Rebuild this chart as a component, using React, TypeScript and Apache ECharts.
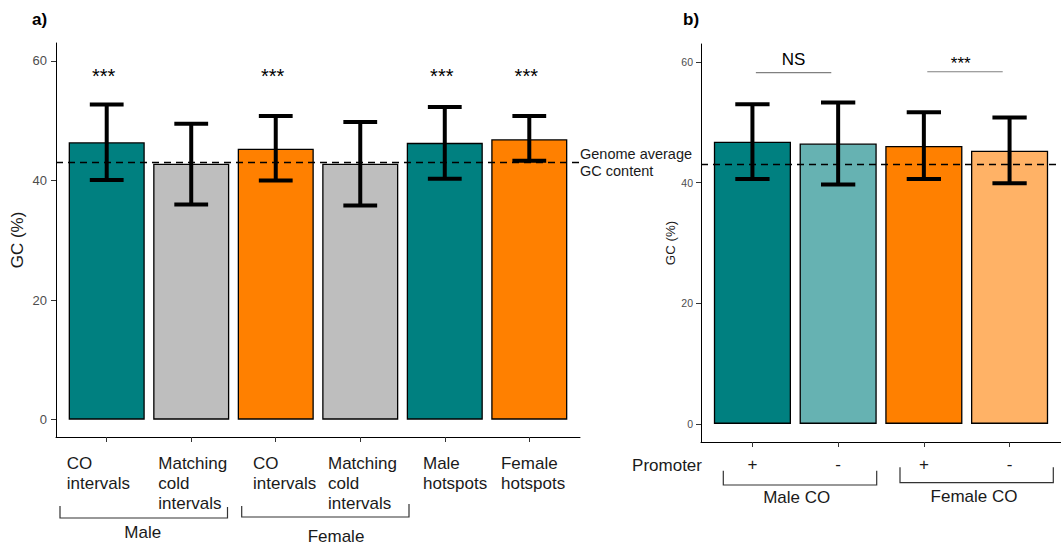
import React, { useEffect, useRef } from 'react';
import * as echarts from 'echarts';

// ---------- Panel a data ----------
const categoriesA = [
  'CO\nintervals',
  'Matching\ncold\nintervals',
  'CO\nintervals',
  'Matching\ncold\nintervals',
  'Male\nhotspots',
  'Female\nhotspots',
];
const gcA = [46.4, 42.8, 45.3, 42.8, 46.3, 46.9];
const lowA = [40.1, 36.0, 40.0, 35.8, 40.3, 43.3];
const highA = [52.7, 49.5, 50.8, 49.8, 52.3, 50.8];
const fillA = ['#008080', '#BEBEBE', '#FF8000', '#BEBEBE', '#008080', '#FF8000'];
const starIndexA = [0, 2, 4, 5];
const starValueA = 57.4;
const groupLabelsA = ['Male', 'Female'];

// ---------- Panel b data ----------
const categoriesB = ['+', '-', '+', '-'];
const gcB = [46.8, 46.5, 46.1, 45.3];
const lowB = [40.6, 39.7, 40.6, 39.9];
const highB = [53.0, 53.3, 51.7, 50.8];
const fillB = ['#008080', '#66B2B2', '#FF8000', '#FFB266'];
const sigFrom = [0.04, 2.04];
const sigTo = [0.92, 2.92];
const sigLineY = [58.25, 58.4];
const sigText = ['NS', '***'];
const sigTextX = [0.48, 2.43];
const sigTextY = [60.5, 59.7];
const groupLabelsB = ['Male CO', 'Female CO'];

// shared
const genomeAverage = 43.0;
const yTicks = [0, 20, 40, 60];

const FONT = '"Liberation Sans", Arial, Helvetica, sans-serif';
const TEXT = '#1a1a1a';

// left-edge anchors (in category units) for the left-aligned labels of panel a
const labelAnchorOffsetA = [-0.473, -0.39, -0.269, -0.382, -0.258, -0.335];

const catPositionsA = categoriesA.map((_, i) => i);
const catPositionsB = categoriesB.map((_, i) => i);

const errorRender = (params: any, api: any) => {
  const x = api.value(0);
  const lo = api.coord([x, api.value(1)]);
  const hi = api.coord([x, api.value(2)]);
  const half = api.size([1, 0])[0] * 0.2;
  const style = { stroke: '#000', lineWidth: 4, fill: null };
  return {
    type: 'group',
    children: [
      { type: 'line', shape: { x1: lo[0], y1: lo[1], x2: hi[0], y2: hi[1] }, style },
      { type: 'line', shape: { x1: hi[0] - half, y1: hi[1], x2: hi[0] + half, y2: hi[1] }, style },
      { type: 'line', shape: { x1: lo[0] - half, y1: lo[1], x2: lo[0] + half, y2: lo[1] }, style },
    ],
  };
};

const textRender = (fontSize: number, dx: number) => (params: any, api: any) => {
  const p = api.coord([api.value(0), api.value(1)]);
  const txt = params.context && false ? '' : (params as any).__txt;
  return {
    type: 'text',
    style: {
      text: String(api.value(2)),
      x: p[0] + dx,
      y: p[1],
      fill: '#000',
      fontSize,
      fontFamily: FONT,
      align: 'center',
      verticalAlign: 'middle',
    },
  };
};

export default function App() {
  const ref = useRef<HTMLDivElement>(null);

  useEffect(() => {
    if (!ref.current) return;
    const chart = echarts.init(ref.current, undefined, { renderer: 'svg' });

    const axisLineStyle = { show: true, onZero: false, lineStyle: { color: '#000', width: 1 } };

    const option: any = {
      animation: false,
      backgroundColor: '#ffffff',
      textStyle: { fontFamily: FONT },
      grid: [
        { left: 56, top: 43, width: 524, height: 394, containLabel: false },
        { left: 701, top: 44, width: 370, height: 398, containLabel: false },
      ],
      xAxis: [
        {
          type: 'value',
          gridIndex: 0,
          min: -0.6,
          max: categoriesA.length - 0.4,
          axisLine: axisLineStyle,
          axisTick: { show: true, length: 5, customValues: catPositionsA, lineStyle: { color: '#333' } },
          axisLabel: {
            customValues: catPositionsA.map((p, i) => p + labelAnchorOffsetA[i]),
            formatter: (v: number) => categoriesA[Math.round(v + 0.35)] ?? '',
            align: 'left',
            margin: 16,
            fontSize: 17,
            lineHeight: 20,
            color: TEXT,
            fontFamily: FONT,
          },
          splitLine: { show: false },
        },
        {
          type: 'value',
          gridIndex: 1,
          min: -0.6,
          max: categoriesB.length - 0.4,
          axisLine: axisLineStyle,
          axisTick: { show: true, length: 5, customValues: catPositionsB, lineStyle: { color: '#333' } },
          axisLabel: {
            customValues: catPositionsB,
            formatter: (v: number) => categoriesB[Math.round(v)] ?? '',
            margin: 14,
            fontSize: 17,
            color: TEXT,
            fontFamily: FONT,
          },
          splitLine: { show: false },
        },
      ],
      yAxis: [
        {
          type: 'value',
          gridIndex: 0,
          min: -2.9,
          max: 63,
          axisLine: axisLineStyle,
          axisTick: { show: true, length: 5, customValues: yTicks, lineStyle: { color: '#333' } },
          axisLabel: { customValues: yTicks, fontSize: 13, color: '#4D4D4D', margin: 9, fontFamily: FONT },
          splitLine: { show: false },
          name: 'GC (%)',
          nameLocation: 'middle',
          nameGap: 30,
          nameTextStyle: { fontSize: 17, color: TEXT, fontFamily: FONT },
        },
        {
          type: 'value',
          gridIndex: 1,
          min: -3,
          max: 63,
          axisLine: axisLineStyle,
          axisTick: { show: true, length: 5, customValues: yTicks, lineStyle: { color: '#333' } },
          axisLabel: { customValues: yTicks, fontSize: 10.5, color: '#4D4D4D', margin: 8, fontFamily: FONT },
          splitLine: { show: false },
          name: 'GC (%)',
          nameLocation: 'middle',
          nameGap: 24,
          nameTextStyle: { fontSize: 13.3, color: TEXT, fontFamily: FONT },
        },
      ],
      series: [
        {
          type: 'bar',
          xAxisIndex: 0,
          yAxisIndex: 0,
          barWidth: '90%',
          z: 2,
          data: gcA.map((v, i) => ({
            value: [i, v],
            itemStyle: { color: fillA[i], borderColor: '#000', borderWidth: 1.3 },
          })),
          markLine: {
            silent: true,
            symbol: ['none', 'none'],
            lineStyle: { type: [7, 5], color: '#000', width: 1.3 },
            label: {
              show: true,
              position: 'end',
              distance: 0,
              formatter: 'Genome average\nGC content',
              fontSize: 14.5,
              lineHeight: 17,
              color: TEXT,
              fontFamily: FONT,
              align: 'left',
            },
            data: [{ yAxis: genomeAverage }],
          },
        },
        {
          type: 'custom',
          xAxisIndex: 0,
          yAxisIndex: 0,
          z: 3,
          renderItem: errorRender,
          encode: { x: 0, y: [1, 2] },
          data: lowA.map((lo, i) => [i, lo, highA[i]]),
        },
        {
          type: 'custom',
          xAxisIndex: 0,
          yAxisIndex: 0,
          z: 4,
          renderItem: textRender(20, -3),
          encode: { x: 0, y: 1 },
          data: starIndexA.map((i) => [i, starValueA, '***']),
        },
        {
          type: 'bar',
          xAxisIndex: 1,
          yAxisIndex: 1,
          barWidth: '90%',
          z: 2,
          data: gcB.map((v, i) => ({
            value: [i, v],
            itemStyle: { color: fillB[i], borderColor: '#000', borderWidth: 1.3 },
          })),
          markLine: {
            silent: true,
            symbol: ['none', 'none'],
            lineStyle: { type: [7, 5], color: '#000', width: 1.3 },
            label: { show: false },
            data: [{ yAxis: genomeAverage }],
          },
        },
        {
          type: 'custom',
          xAxisIndex: 1,
          yAxisIndex: 1,
          z: 3,
          renderItem: errorRender,
          encode: { x: 0, y: [1, 2] },
          data: lowB.map((lo, i) => [i, lo, highB[i]]),
        },
        ...sigFrom.map((f, i) => ({
          type: 'line',
          xAxisIndex: 1,
          yAxisIndex: 1,
          z: 4,
          symbol: 'none',
          lineStyle: { color: '#808080', width: 1.2 },
          data: [
            [f, sigLineY[i]],
            [sigTo[i], sigLineY[i]],
          ],
        })),
        {
          type: 'custom',
          xAxisIndex: 1,
          yAxisIndex: 1,
          z: 4,
          renderItem: textRender(17, 0),
          encode: { x: 0, y: 1 },
          data: sigText.map((t, i) => [sigTextX[i], sigTextY[i], t]),
        },
      ],
      graphic: [
        { type: 'text', left: 32, top: 11, style: { text: 'a)', fontSize: 17, fontWeight: 'bold', fill: '#000', fontFamily: FONT } },
        { type: 'text', left: 683, top: 11, style: { text: 'b)', fontSize: 17, fontWeight: 'bold', fill: '#000', fontFamily: FONT } },
        // panel a group brackets
        { type: 'polyline', shape: { points: [[60, 506], [60, 518], [227.5, 518], [227.5, 507]] }, style: { stroke: '#333', lineWidth: 1.2, fill: null } },
        { type: 'polyline', shape: { points: [[241.7, 506], [241.7, 517], [409, 517], [409, 504]] }, style: { stroke: '#333', lineWidth: 1.2, fill: null } },
        { type: 'text', x: 142.7, y: 532.7, style: { text: groupLabelsA[0], fontSize: 17, fill: TEXT, fontFamily: FONT, align: 'center', verticalAlign: 'middle' } },
        { type: 'text', x: 336, y: 536, style: { text: groupLabelsA[1], fontSize: 17, fill: TEXT, fontFamily: FONT, align: 'center', verticalAlign: 'middle' } },
        // panel b
        { type: 'text', x: 702, y: 465, style: { text: 'Promoter', fontSize: 17, fill: TEXT, fontFamily: FONT, align: 'right', verticalAlign: 'middle' } },
        { type: 'polyline', shape: { points: [[723.3, 470.7], [723.3, 485], [876.7, 485], [876.7, 470.7]] }, style: { stroke: '#333', lineWidth: 1.2, fill: null } },
        { type: 'polyline', shape: { points: [[900, 467.3], [900, 482.7], [1053.3, 482.7], [1053.3, 467.3]] }, style: { stroke: '#333', lineWidth: 1.2, fill: null } },
        { type: 'text', x: 796.7, y: 497, style: { text: groupLabelsB[0], fontSize: 17, fill: TEXT, fontFamily: FONT, align: 'center', verticalAlign: 'middle' } },
        { type: 'text', x: 974, y: 496.7, style: { text: groupLabelsB[1], fontSize: 17, fill: TEXT, fontFamily: FONT, align: 'center', verticalAlign: 'middle' } },
      ],
    };

    chart.setOption(option);
    return () => chart.dispose();
  }, []);

  return (
    <div
      ref={ref}
      style={{ position: 'fixed', left: 0, top: 0, width: 1061, height: 544, background: '#fff' }}
    />
  );
}
